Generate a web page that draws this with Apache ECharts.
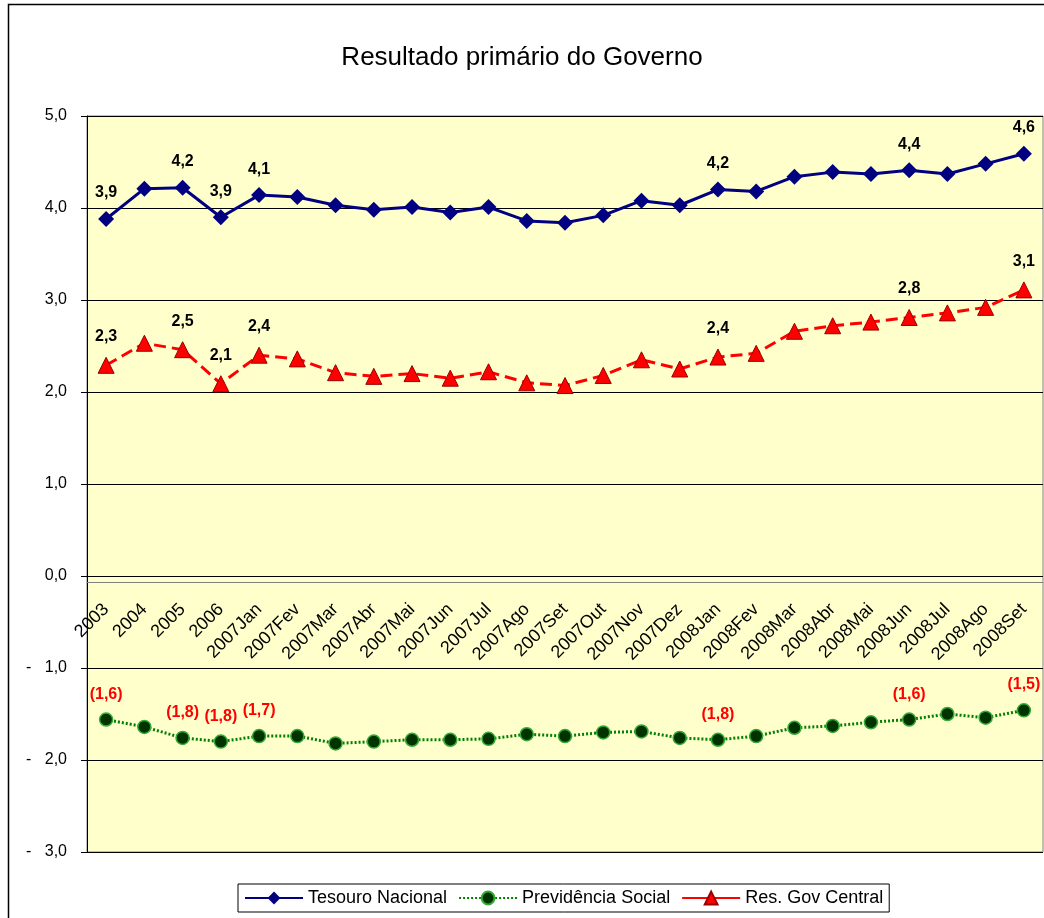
<!DOCTYPE html>
<html>
<head>
<meta charset="utf-8">
<script src="https://cdn.jsdelivr.net/npm/echarts@6/dist/echarts.min.js"></script>
<style>
  html, body { margin: 0; padding: 0; background: #fff; }
  #root { width: 1044px; height: 918px; }
</style>
</head>
<body>
<div id="root"></div>
<script>
const categories = [
  '2003', '2004', '2005', '2006',
  '2007Jan', '2007Fev', '2007Mar', '2007Abr', '2007Mai', '2007Jun',
  '2007Jul', '2007Ago', '2007Set', '2007Out', '2007Nov', '2007Dez',
  '2008Jan', '2008Fev', '2008Mar', '2008Abr', '2008Mai', '2008Jun',
  '2008Jul', '2008Ago', '2008Set'
];

const tesouro = [
  3.88, 4.21, 4.22, 3.90, 4.14, 4.12, 4.03, 3.98, 4.01, 3.95,
  4.01, 3.86, 3.84, 3.92, 4.08, 4.03, 4.20, 4.18, 4.34, 4.39,
  4.37, 4.41, 4.37, 4.48, 4.59
];
const previdencia = [
  -1.56, -1.64, -1.76, -1.80, -1.74, -1.74, -1.82, -1.80, -1.78, -1.78,
  -1.77, -1.72, -1.74, -1.70, -1.69, -1.76, -1.78, -1.74, -1.65, -1.63,
  -1.59, -1.56, -1.50, -1.54, -1.46
];
const govCentral = [
  2.29, 2.53, 2.46, 2.09, 2.40, 2.36, 2.21, 2.17, 2.20, 2.15,
  2.22, 2.10, 2.07, 2.18, 2.35, 2.25, 2.38, 2.42, 2.66, 2.72,
  2.76, 2.81, 2.86, 2.92, 3.11
];

// which points carry a value label
const labeledPoints = [0, 2, 3, 4, 16, 21, 24];

const yMin = -3;
const yMax = 5;

const fmt = v => v.toFixed(1).replace('.', ',');

function withLabels(values) {
  return values.map((v, i) => ({
    value: v,
    label: { show: labeledPoints.indexOf(i) >= 0 }
  }));
}

let myChart = echarts.init(document.getElementById('root'));

const font = 'Liberation Sans, Arial, sans-serif';

let option = {
  backgroundColor: '#ffffff',
  animation: false,
  title: {
    text: 'Resultado primário do Governo',
    left: 'center',
    top: 40,
    textStyle: { fontFamily: font, fontSize: 26, fontWeight: 'normal', color: '#000' }
  },
  graphic: [{
    type: 'rect',
    shape: { x: 8.5, y: 4.5, width: 1100, height: 1000 },
    style: { fill: null, stroke: '#000', lineWidth: 1.5 },
    silent: true
  }],
  legend: {
    left: 238,
    top: 884,
    padding: [5, 6],
    itemWidth: 58,
    itemHeight: 16,
    itemGap: 11,
    borderColor: '#000',
    borderWidth: 1,
    backgroundColor: '#fff',
    textStyle: { fontFamily: font, fontSize: 18, color: '#000' },
    data: [
      'Tesouro Nacional',
      'Previdência Social',
      { name: 'Res. Gov Central', lineStyle: { type: 'solid' } }
    ]
  },
  grid: {
    left: 87,
    top: 116,
    right: 1,
    bottom: 66,
    show: true,
    backgroundColor: '#FFFFCC',
    borderColor: '#808080',
    borderWidth: 1
  },
  xAxis: {
    type: 'category',
    data: categories,
    axisLine: { onZero: false, lineStyle: { color: '#808080', width: 1 } },
    axisTick: { length: 5, lineStyle: { color: '#808080' } },
    axisLabel: {
      interval: 0,
      rotate: 45,
      margin: 24,
      fontFamily: font,
      fontSize: 18,
      color: '#000'
    },
    splitLine: { show: false }
  },
  yAxis: {
    type: 'value',
    min: yMin,
    max: yMax,
    interval: 1,
    axisLine: { show: true, lineStyle: { color: '#000', width: 1 } },
    axisTick: { show: true, length: 6, lineStyle: { color: '#000' } },
    axisLabel: {
      margin: 20,
      fontFamily: font,
      fontSize: 16,
      color: '#000',
      formatter: v => v < 0 ? '-   ' + fmt(-v) : fmt(v)
    },
    splitLine: { lineStyle: { color: '#000', width: 1 } }
  },
  series: [
    {
      name: 'Tesouro Nacional',
      type: 'line',
      data: withLabels(tesouro),
      symbol: 'diamond',
      symbolSize: 16,
      itemStyle: { color: '#000080' },
      lineStyle: { color: '#000080', width: 3 },
      label: {
        position: 'top',
        distance: 10,
        fontFamily: font,
        fontSize: 16,
        fontWeight: 'bold',
        color: '#000',
        formatter: p => fmt(p.value)
      }
    },
    {
      name: 'Previdência Social',
      type: 'line',
      data: withLabels(previdencia),
      symbol: 'circle',
      symbolSize: 13,
      itemStyle: { color: '#003300', borderColor: '#33aa33', borderWidth: 1.5 },
      lineStyle: { color: '#008000', width: 3, type: [2, 2] },
      label: {
        position: 'top',
        distance: 10,
        fontFamily: font,
        fontSize: 16,
        fontWeight: 'bold',
        color: '#ff0000',
        formatter: p => '(' + fmt(-p.value) + ')'
      }
    },
    {
      name: 'Res. Gov Central',
      type: 'line',
      data: withLabels(govCentral),
      symbol: 'triangle',
      symbolSize: 16,
      itemStyle: { color: '#ff0000', borderColor: '#990000', borderWidth: 1 },
      lineStyle: { color: '#ff0000', width: 3, type: [12, 6] },
      label: {
        position: 'top',
        distance: 12,
        fontFamily: font,
        fontSize: 16,
        fontWeight: 'bold',
        color: '#000',
        formatter: p => fmt(p.value)
      }
    }
  ]
};

myChart.setOption(option);

// the category axis sits on the zero line, with its labels
const zeroY = myChart.convertToPixel({ yAxisIndex: 0 }, 0);
const bottomY = myChart.convertToPixel({ yAxisIndex: 0 }, yMin);
myChart.setOption({ xAxis: { offset: zeroY - bottomY } });
</script>
</body>
</html>
